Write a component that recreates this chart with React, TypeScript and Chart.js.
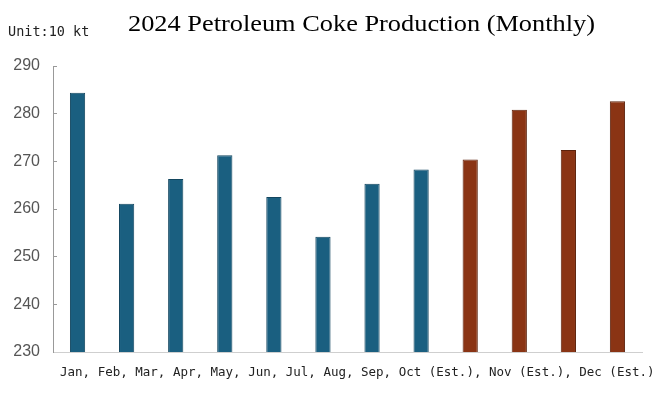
import React, { useEffect, useRef } from "react";
import { Chart, registerables } from "chart.js";

Chart.register(...registerables);

const months = ["Jan", "Feb", "Mar", "Apr", "May", "Jun", "Jul", "Aug", "Sep", "Oct", "Nov", "Dec"];
const production = [284.4, 261.1, 266.3, 271.3, 262.5, 254.2, 265.3, 268.3, 270.4, 280.8, 272.4, 282.6];
const isEstimate = [false, false, false, false, false, false, false, false, true, true, true, true];
const yMin = 230;
const yMax = 290;
const yStep = 10;
const titleText = "2024 Petroleum Coke Production (Monthly)";
const unitText = "Unit:10 kt";
const axisCaption = "Jan, Feb, Mar, Apr, May, Jun, Jul, Aug, Sep, Oct (Est.), Nov (Est.), Dec (Est.)";

const actualFill = "#1a5f80";
const actualBorder = "#13465f";
const estFill = "#8a3414";
const estBorder = "#5c220c";

const textPlugin = {
  id: "chartTexts",
  afterDraw(chart: any) {
    const ctx = chart.ctx;
    ctx.save();
    ctx.textBaseline = "middle";
    ctx.textAlign = "left";
    ctx.fillStyle = "#222";
    ctx.font = '13.5px "DejaVu Sans Mono"';
    ctx.fillText(unitText, 8, 32);

    ctx.fillStyle = "#000";
    ctx.font = '23px "Liberation Serif"';
    const w = ctx.measureText(titleText).width;
    const target = 467;
    ctx.save();
    ctx.translate(128, 25);
    ctx.scale(target / w, 1);
    ctx.fillText(titleText, 0, 0);
    ctx.restore();

    ctx.fillStyle = "#222";
    ctx.font = '12.5px "DejaVu Sans Mono"';
    ctx.fillText(axisCaption, 60, 373);
    ctx.restore();
  },
};

export default function App() {
  const ref = useRef<HTMLCanvasElement | null>(null);
  useEffect(() => {
    if (!ref.current) return;
    const chart = new Chart(ref.current, {
      type: "bar",
      data: {
        labels: months,
        datasets: [
          {
            data: production,
            backgroundColor: isEstimate.map((e) => (e ? estFill : actualFill)),
            borderColor: isEstimate.map((e) => (e ? estBorder : actualBorder)),
            borderWidth: 1,
            barPercentage: 0.31,
            categoryPercentage: 1,
          },
        ],
      },
      options: {
        responsive: false,
        animation: false,
        layout: { padding: { top: 66, right: 18, bottom: 0, left: 0 } },
        plugins: { legend: { display: false }, title: { display: false }, tooltip: { enabled: false } },
        scales: {
          x: {
            grid: { display: false },
            border: { color: "#cfcfcf", width: 1 },
            ticks: { display: false },
            afterFit(scale: any) {
              scale.height = 46;
            },
          },
          y: {
            min: yMin,
            max: yMax,
            ticks: {
              stepSize: yStep,
              color: "#555",
              padding: 17,
              font: { family: "Liberation Sans", size: 16 },
            },
            grid: { drawOnChartArea: false, drawTicks: true, tickLength: -4, color: "#999" },
            border: { color: "#999", width: 1 },
            afterFit(scale: any) {
              scale.width = 53;
            },
          },
        },
      },
      plugins: [textPlugin],
    });
    return () => chart.destroy();
  }, []);
  return (
    <div style={{ position: "absolute", left: 0, top: 0, width: 660, height: 398, background: "#fff" }}>
      <canvas ref={ref} width={660} height={398} style={{ width: 660, height: 398, display: "block" }} />
    </div>
  );
}
